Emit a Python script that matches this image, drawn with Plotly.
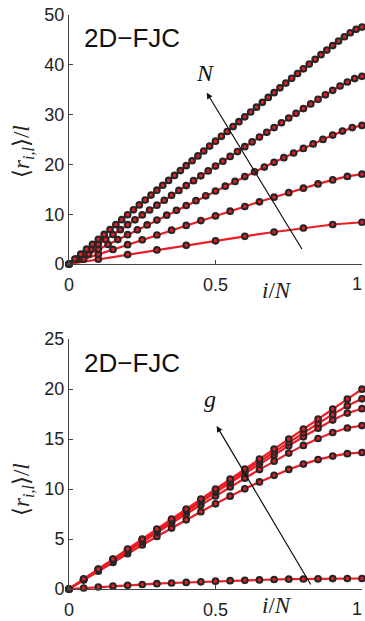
import plotly.graph_objects as go

# ---------- data ----------
# top panel: chains of N = 10..50 segments, x = i/N
top_N = [10, 20, 30, 40, 50]
top_r10 = [0, 0.95, 1.89, 2.83, 3.75, 4.66, 5.56, 6.42, 7.23, 7.93, 8.38]
top_r20 = [0, 0.97, 1.95, 2.92, 3.89, 4.86, 5.82, 6.79, 7.75, 8.71, 9.66,
           10.61, 11.55, 12.49, 13.41, 14.32, 15.22, 16.08, 16.89, 17.59, 18.03]
top_r30 = [0, 0.98, 1.97, 2.95, 3.93, 4.91, 5.89, 6.87, 7.85, 8.82, 9.80,
           10.77, 11.75, 12.72, 13.69, 14.66, 15.62, 16.59, 17.55, 18.51, 19.46,
           20.41, 21.35, 22.29, 23.21, 24.12, 25.02, 25.88, 26.69, 27.39, 27.83]
top_r40 = [0, 0.99, 1.97, 2.96, 3.95, 4.93, 5.92, 6.90, 7.89, 8.87, 9.86,
           10.84, 11.82, 12.80, 13.79, 14.77, 15.75, 16.73, 17.70, 18.68, 19.66,
           20.63, 21.60, 22.58, 23.55, 24.51, 25.48, 26.44, 27.40, 28.36, 29.32,
           30.26, 31.21, 32.14, 33.07, 33.98, 34.87, 35.74, 36.55, 37.24, 37.69]
top_r50 = [0, 0.99, 1.98, 2.97, 3.96, 4.95, 5.94, 6.93, 7.91, 8.90, 9.89,
           10.88, 11.86, 12.85, 13.84, 14.82, 15.81, 16.79, 17.78, 18.76, 19.75,
           20.73, 21.71, 22.69, 23.68, 24.66, 25.64, 26.61, 27.59, 28.57, 29.55,
           30.52, 31.49, 32.47, 33.44, 34.40, 35.37, 36.33, 37.29, 38.25, 39.20,
           40.15, 41.10, 42.03, 42.96, 43.87, 44.76, 45.63, 46.44, 47.13, 47.58]
top_series = [top_r10, top_r20, top_r30, top_r40, top_r50]

# bottom panel: N = 20, several values of g
bot_x = [0, 0.05, 0.10, 0.15, 0.20, 0.25, 0.30, 0.35, 0.40, 0.45, 0.50,
         0.55, 0.60, 0.65, 0.70, 0.75, 0.80, 0.85, 0.90, 0.95, 1.00]
bot_g1 = [0, 0.10, 0.20, 0.29, 0.37, 0.45, 0.53, 0.60, 0.66, 0.72, 0.78,
          0.83, 0.87, 0.91, 0.95, 0.98, 1.00, 1.02, 1.04, 1.05, 1.05]
bot_g2 = [0, 0.89, 1.78, 2.66, 3.53, 4.40, 5.25, 6.09, 6.92, 7.73, 8.52,
          9.28, 10.02, 10.71, 11.37, 11.96, 12.49, 12.94, 13.29, 13.53, 13.65]
bot_g3 = [0, 0.95, 1.89, 2.84, 3.78, 4.71, 5.64, 6.57, 7.49, 8.40, 9.30,
          10.20, 11.08, 11.94, 12.78, 13.59, 14.36, 15.05, 15.65, 16.10, 16.34]
bot_g4 = [0, 0.97, 1.95, 2.92, 3.89, 4.86, 5.82, 6.79, 7.75, 8.71, 9.66,
          10.61, 11.55, 12.49, 13.41, 14.32, 15.22, 16.08, 16.89, 17.59, 18.03]
bot_g5 = [0, 0.99, 1.97, 2.96, 3.95, 4.93, 5.91, 6.89, 7.88, 8.85, 9.83,
          10.81, 11.78, 12.75, 13.71, 14.67, 15.62, 16.55, 17.46, 18.33, 19.02]
bot_g6 = [0, 1.00, 2.00, 3.00, 4.00, 5.00, 6.00, 7.00, 8.00, 9.00, 10.00,
          10.99, 11.99, 12.99, 13.99, 14.99, 15.99, 16.99, 17.99, 18.99, 19.98]
bot_series = [bot_g1, bot_g2, bot_g3, bot_g4, bot_g5, bot_g6]

top_yticks = [0, 10, 20, 30, 40, 50]
bot_yticks = [0, 5, 10, 15, 20, 25]
x_ticks = [0, 0.5, 1]
x_ticklabels = ["0", "0.5", ""]   # the "1" label is placed as an annotation at the edge
x_last_label = "1"

# ---------- figure ----------
W, H = 365, 621
RED = "#ee1c24"
DARK = "#262626"
SANS = "Liberation Sans, Arial, sans-serif"
SERIF = "Liberation Serif, DejaVu Serif, serif"

fig = go.Figure()

def add_series(xs, ys, xa, ya):
    fig.add_trace(go.Scatter(
        x=xs, y=ys, mode="lines+markers", xaxis=xa, yaxis=ya,
        line=dict(color=RED, width=2.2),
        marker=dict(symbol="circle", size=5.6, color=RED,
                    line=dict(color=DARK, width=2.1)),
        cliponaxis=False, showlegend=False, hoverinfo="skip"))

for n, ys in zip(top_N, top_series):
    xs = [i / n for i in range(n + 1)]
    add_series(xs, ys, "x", "y")
for ys in bot_series:
    add_series(bot_x, ys, "x2", "y2")

px = lambda p: p / W
py = lambda p: 1 - p / H
xdom = [px(69), px(362)]

TICKFONT = dict(family=SANS, size=18, color="#222")
axis_common = dict(showline=True, linecolor="#444", linewidth=1, ticks="inside",
                   ticklen=4, tickcolor="#444", showgrid=False, zeroline=False,
                   mirror=False, automargin=False, ticklabeloverflow="allow",
                   tickfont=TICKFONT)

fig.update_layout(
    width=W, height=H, autosize=False,
    margin=dict(l=0, r=0, t=0, b=0, pad=0, autoexpand=False),
    paper_bgcolor="white", plot_bgcolor="white",
    xaxis=dict(domain=xdom, range=[0, 1], anchor="y", tickvals=x_ticks,
               ticktext=x_ticklabels, ticklabelstandoff=4, **axis_common),
    yaxis=dict(domain=[py(264), py(15)], range=[0, 50], anchor="x",
               tickvals=top_yticks, **axis_common),
    xaxis2=dict(domain=xdom, range=[0, 1], anchor="y2", tickvals=x_ticks,
                ticktext=x_ticklabels, ticklabelstandoff=4, **axis_common),
    yaxis2=dict(domain=[py(589), py(339)], range=[0, 25], anchor="x2",
                tickvals=bot_yticks, **axis_common),
)

ylabel = "⟨<i>r</i><sub><i>i,l</i></sub>⟩/<i>l</i>"
xlabel = "<i>i</i>/<i>N</i>"

anns = []
for (ylab_y, xlab_y, fjc_y, tick_y) in [(152, 290, 38, 284), (490, 605, 363, 609)]:
    anns.append(dict(text=ylabel, x=px(23), y=py(ylab_y), xref="paper", yref="paper",
                     xanchor="center", yanchor="middle",
                     showarrow=False, textangle=-90,
                     font=dict(family=SERIF, size=23, color="#222")))
    anns.append(dict(text=xlabel, x=px(277), y=py(xlab_y), xref="paper", yref="paper",
                     xanchor="center", yanchor="middle",
                     showarrow=False, font=dict(family=SERIF, size=23, color="#222")))
    anns.append(dict(text="2D−FJC", x=px(82), y=py(fjc_y), xref="paper", yref="paper",
                     xanchor="left", yanchor="middle", showarrow=False,
                     font=dict(family=SANS, size=26, color="#111")))
    anns.append(dict(text=x_last_label, x=px(364), y=py(tick_y), xref="paper", yref="paper",
                     xanchor="right", yanchor="middle", showarrow=False, font=TICKFONT))

# arrows
anns.append(dict(x=0.47, y=34.4, ax=0.798, ay=2.7, xref="x", yref="y", axref="x", ayref="y",
                 showarrow=True, arrowhead=2, arrowsize=1, arrowwidth=1.2, arrowcolor="#111",
                 text=""))
anns.append(dict(text="<i>N</i>", x=0.465, y=38.3, xref="x", yref="y", showarrow=False,
                 xanchor="center", yanchor="middle",
                 font=dict(family=SERIF, size=24, color="#111")))
anns.append(dict(x=0.504, y=16.3, ax=0.828, ay=0.3, xref="x2", yref="y2", axref="x2", ayref="y2",
                 showarrow=True, arrowhead=2, arrowsize=1, arrowwidth=1.2, arrowcolor="#111",
                 text=""))
anns.append(dict(text="<i>g</i>", x=0.48, y=19.0, xref="x2", yref="y2", showarrow=False,
                 xanchor="center", yanchor="middle",
                 font=dict(family=SERIF, size=24, color="#111")))

fig.update_layout(annotations=anns)
fig.write_html(
    "out.html",
    config={"displayModeBar": False},
    post_script="document.body.style.margin='0';document.body.style.padding='0';"
                "document.body.style.overflow='hidden';",
)
